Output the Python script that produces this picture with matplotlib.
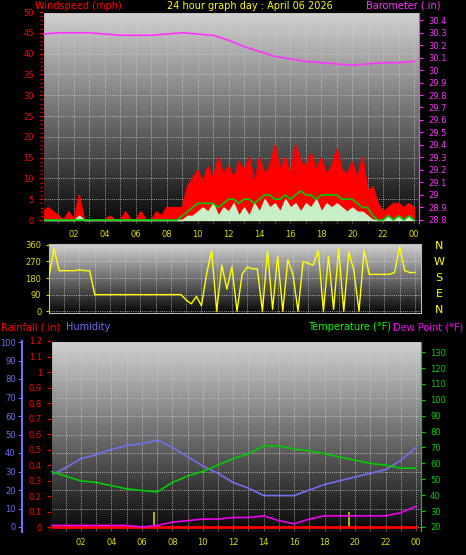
import matplotlib
matplotlib.use("Agg")
import matplotlib.pyplot as plt
import numpy as np

W, H = 466, 555

# ---- data ----
# wind, every 20 minutes 0h..24h
gust = [2, 3, 2, 1, 0, 2, 0, 6, 0, 0, 0, 0, 0, 1, 0, 0, 2, 0, 0, 2, 0, 0, 2, 1,
        3, 3, 3, 3, 8, 10, 12, 9, 13, 10, 15, 11, 13, 10, 14, 12, 15, 9, 15, 11, 13,
        18, 12, 15, 11, 18, 14, 13, 16, 12, 15, 11, 13, 17, 12, 11, 14, 10, 15,
        7, 8, 4, 2, 3, 4, 4, 3, 4, 3]
wind_avg = [0, 0, 0, 0, 0, 0, 0, 0, 0, 0, 0, 0, 0, 0, 0, 0, 0, 0, 0, 0, 0, 0, 0, 0,
            0, 0, 0, 1, 2, 3, 4, 4, 4, 4, 3, 4, 5, 5, 4, 5, 5, 4, 5, 6, 6, 5, 5, 6,
            5, 6, 7, 6, 6, 5, 6, 6, 6, 6, 5, 5, 5, 4, 3, 3, 1, 0, 0, 1, 0, 1, 0, 1, 0]
wind_spd = [0, 0, 0, 0, 0, 0, 0, 1, 0, 0, 0, 0, 0, 0, 0, 0, 0, 0, 0, 0, 0, 0, 0, 0,
            0, 0, 0, 0, 1, 1, 2, 3, 2, 4, 1, 3, 2, 4, 1, 3, 1, 4, 2, 5, 3, 4, 2, 5,
            3, 4, 2, 4, 3, 5, 2, 4, 3, 4, 3, 2, 3, 2, 2, 1, 0, 0, 0, 1, 0, 1, 0, 1, 0]
wind_dir = [190, 340, 220, 220, 220, 220, 225, 220, 220, 90, 90, 90, 90, 90, 90,
            90, 90, 90, 90, 90, 90, 90, 90, 90, 90, 90, 90, 60, 40, 80, 30, 200, 330,
            0, 250, 120, 240, 0, 200, 240, 230, 230, 0, 330, 10, 300, 0, 280,
            200, 0, 270, 260, 250, 330, 0, 300, 10, 340, 0, 320, 220, 0, 330,
            200, 200, 200, 200, 200, 210, 350, 220, 210, 210]
# hourly 0h..24h
baro = [30.29, 30.30, 30.30, 30.30, 30.29, 30.28, 30.28, 30.28, 30.29, 30.30, 30.29,
        30.28, 30.24, 30.19, 30.15, 30.11, 30.09, 30.07, 30.06, 30.05, 30.04, 30.05,
        30.06, 30.06, 30.07]
temp = [55, 52, 49, 48, 46, 44, 43, 42, 48, 52, 55, 59, 63, 66, 71, 71, 69, 68, 66,
        64, 62, 60, 59, 57, 57]
humid = [28, 32, 37, 39, 42, 44, 45, 47, 43, 38, 33, 29, 24, 21, 17, 17, 17, 20, 23,
         25, 27, 29, 31, 36, 43]
dew = [21, 21, 21, 21, 21, 21, 20, 21, 23, 24, 25, 25, 26, 26, 27, 24, 22, 25, 27,
       27, 27, 27, 27, 29, 33]
rain = [0.0] * 25
rain_marks = [6.8, 19.6]

t20 = np.arange(len(gust)) / 3.0
t1 = np.arange(25)
hour_ticks = list(range(2, 25, 2))
hour_labels = ["%02d" % (h % 24) for h in hour_ticks]

fig = plt.figure(figsize=(W / 100, H / 100), dpi=100, facecolor="black")


def add_ax(x0, y0, x1, y1):
    return fig.add_axes([x0 / W, 1 - y1 / H, (x1 - x0) / W, (y1 - y0) / H])


def background(ax):
    grad = np.linspace(0.82, 0.03, 256).reshape(-1, 1)
    ax.imshow(grad, cmap="gray", vmin=0, vmax=1, aspect="auto",
              extent=[0, 1, 0, 1], transform=ax.transAxes, zorder=0)
    ax.set_facecolor("black")
    for s in ax.spines.values():
        s.set_color("#bbbbbb")


def style_x(ax, labels=True):
    ax.set_xticks(hour_ticks)
    ax.set_xticklabels(hour_labels if labels else [])
    ax.set_xticks(range(0, 25), minor=True)
    ax.tick_params(axis="x", which="both", length=0, labelsize=6,
                   labelcolor="#dddd00", pad=4)
    ax.grid(True, which="both", axis="x", color="#d0d0d0", linestyle=":", linewidth=0.6)


fs = 7
# ---- panel 1: wind + barometer ----
ax1 = add_ax(43, 12, 419, 224)
background(ax1)
ax1.fill_between(t20, 0, gust, color="red", linewidth=0.8, zorder=2)
ax1.plot(t20, gust, color="red", linewidth=0.8, zorder=2)
ax1.fill_between(t20, 0, wind_spd, color="#c8f0c8", zorder=3)
ax1.plot(t20, wind_avg, color="#00cc00", linewidth=1.2, zorder=4)
ax1.set_xlim(0.08, 24.32)
ax1.set_ylim(-0.96, 50)
ax1.set_yticks(range(0, 51, 5))
ax1.set_yticks(range(0, 51, 1), minor=True)
ax1.tick_params(axis="y", which="both", colors="red", labelsize=6, length=2)
ax1.tick_params(axis="y", which="major", length=3)
ax1.grid(True, axis="y", color="#d0d0d0", linestyle=":", linewidth=0.6)
style_x(ax1)
ax1.spines["left"].set_color("red")

ax1b = ax1.twinx()
ax1b.plot(t1, baro, color="#ff33ff", linewidth=1.2, zorder=5)
ax1b.set_ylim(28.764, 30.467)
ax1b.set_yticks(np.round(np.arange(28.8, 30.41, 0.1), 1))
ax1b.set_yticklabels(["%g" % v for v in np.round(np.arange(28.8, 30.41, 0.1), 1)])
ax1b.tick_params(axis="y", colors="#ff33ff", labelsize=6, length=3)
ax1b.spines["right"].set_color("#ff33ff")

fig.text(35 / W, 1 - 6 / H, "Windspeed (mph)", color="red", fontsize=fs, va="center")
fig.text(250 / W, 1 - 6 / H, "24 hour graph day : April 06 2026", color="#ffff00",
         fontsize=fs, ha="center", va="center")
fig.text(440 / W, 1 - 6 / H, "Barometer (.in)", color="#ff33ff", fontsize=fs,
         ha="right", va="center")

# ---- panel 2: wind direction ----
ax2 = add_ax(49, 244, 421, 313)
background(ax2)
ax2.plot(t20, wind_dir, color="#ffff00", linewidth=1.0, zorder=3)
ax2.set_xlim(0.4, 24.4)
ax2.set_ylim(-10, 365)
ax2.set_yticks([0, 90, 180, 270, 360])
ax2.tick_params(axis="y", colors="#dddd00", labelsize=6, length=2)
ax2.grid(True, axis="y", color="#d0d0d0", linestyle=":", linewidth=0.6)
style_x(ax2, labels=False)
for i, c in enumerate("NWSEN"):
    fig.text(439 / W, 1 - (246 + i * 16) / H, c, color="#ffff00", fontsize=8,
             ha="center", va="center")

# ---- panel 3: temp / humidity / rain ----
ax3 = add_ax(51, 341, 421, 532)
background(ax3)
style_x(ax3)
ax3.set_xlim(0.03, 24.33)

ax3h = ax3.twinx()
ax3h.plot(t1, humid, color="#7070f0", linewidth=1.2, zorder=4)
ax3h.set_ylim(-5 / 1.85, (527 - 341) / 1.85)
ax3h.yaxis.tick_left()
ax3h.spines["left"].set_position(("outward", 21))
ax3h.spines["left"].set_color("#7070f0")
ax3h.spines["left"].set_linewidth(1.5)
ax3h.set_yticks(range(0, 101, 10))
ax3h.tick_params(axis="y", colors="#7070f0", labelsize=6, length=3, pad=1.5)
ax3h.grid(True, axis="y", color="#d0d0d0", linestyle=":", linewidth=0.6)

ax3r = ax3.twinx()
ax3r.plot(t1, rain, color="red", linewidth=2, zorder=5)
ax3r.vlines(rain_marks, 0, 0.1, color="#cccc00", linewidth=1.2)
ax3r.set_ylim(-5 / 156, (527 - 341) / 156)
ax3r.yaxis.tick_left()
ax3r.spines["left"].set_color("red")
ax3r.spines["left"].set_linestyle(":")
ax3r.set_yticks(np.round(np.arange(0, 1.21, 0.1), 1))
ax3r.set_yticklabels(["%g" % v for v in np.round(np.arange(0, 1.21, 0.1), 1)])
ax3r.tick_params(axis="y", colors="red", labelsize=6, length=3)
for a in (ax3h, ax3r):
    a.spines["right"].set_visible(False)
    a.spines["top"].set_visible(False)
    a.spines["bottom"].set_visible(False)

# temperature axis on the right (drawn on its own twin so left axes stay free)
ax3t = ax3.twinx()
ax3t.plot(t1, temp, color="#00cc00", linewidth=1.2, zorder=4)
ax3t.plot(t1, dew, color="#ee00ee", linewidth=1.2, zorder=4)
ax3t.set_ylim(20 - 5 / 1.59, 20 + (527 - 341) / 1.59)
ax3t.set_yticks(range(20, 131, 10))
ax3t.tick_params(axis="y", colors="#00cc00", labelsize=6, length=3)
ax3t.spines["right"].set_color("#00cc00")
ax3.set_yticks([])
for a in (ax3h, ax3r, ax3t):
    a.set_xlim(0.03, 24.33)

fig.text(1 / W, 1 - 327 / H, "Rainfall (.in)", color="red", fontsize=fs, va="center")
fig.text(66 / W, 1 - 327 / H, "Humidity", color="#7070f0", fontsize=fs, va="center")
fig.text(391 / W, 1 - 327 / H, "Temperature (°F)", color="#00ff00", fontsize=fs,
         ha="right", va="center")
fig.text(463 / W, 1 - 327 / H, "Dew Point (°F)", color="#ff00ff", fontsize=fs,
         ha="right", va="center")

fig.savefig("out.png", dpi=100, facecolor="black")
